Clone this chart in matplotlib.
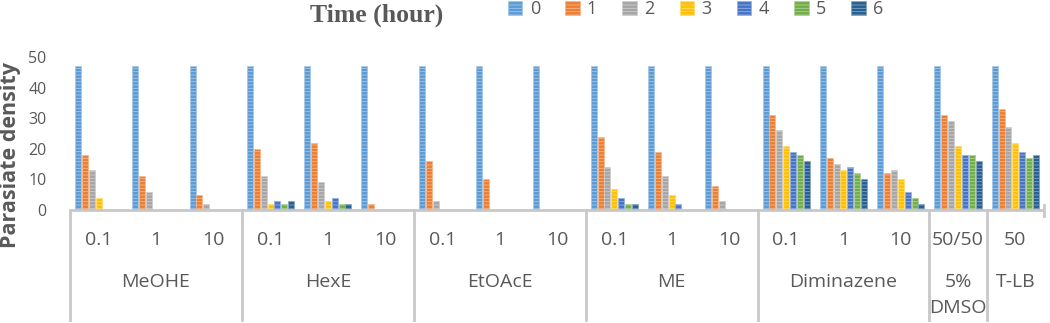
import matplotlib
matplotlib.use("Agg")
import matplotlib.pyplot as plt
from matplotlib.patches import Patch
from matplotlib.colors import to_rgb
import matplotlib.transforms as mtransforms

# ---- data ----
sub_labels = ['0.1', '1', '10', '0.1', '1', '10', '0.1', '1', '10',
              '0.1', '1', '10', '0.1', '1', '10', '50/50', '50']
group_labels = ['MeOHE', 'HexE', 'EtOAcE', 'ME', 'Diminazene', '5%\nDMSO', 'T-LB']
group_sizes = [3, 3, 3, 3, 3, 1, 1]
hours = ['0', '1', '2', '3', '4', '5', '6']

h0 = [47, 47, 47, 47, 47, 47, 47, 47, 47, 47, 47, 47, 47, 47, 47, 47, 47]
h1 = [18, 11, 5, 20, 22, 2, 16, 10, 0, 24, 19, 8, 31, 17, 12, 31, 33]
h2 = [13, 6, 2, 11, 9, 0, 3, 0, 0, 14, 11, 3, 26, 15, 13, 29, 27]
h3 = [4, 0, 0, 2, 3, 0, 0, 0, 0, 7, 5, 0, 21, 13, 10, 21, 22]
h4 = [0, 0, 0, 3, 4, 0, 0, 0, 0, 4, 2, 0, 19, 14, 6, 18, 19]
h5 = [0, 0, 0, 2, 2, 0, 0, 0, 0, 2, 0, 0, 18, 12, 4, 18, 17]
h6 = [0, 0, 0, 3, 2, 0, 0, 0, 0, 2, 0, 0, 16, 10, 2, 16, 18]
series = [h0, h1, h2, h3, h4, h5, h6]

colors = ['#5B9BD5', '#ED7D31', '#A5A5A5', '#FFC000', '#4472C4', '#70AD47', '#255E91']

# ---- style ----
plt.rcParams['font.family'] = ['Open Sans', 'DejaVu Sans']
plt.rcParams['hatch.linewidth'] = 0.6
txt = '#595959'
axis_col = '#C8C8C8'

def lighten(c, f=0.45):
    r, g, b = to_rgb(c)
    return (r + (1 - r) * f, g + (1 - g) * f, b + (1 - b) * f)

W, H = 1050, 323
fig = plt.figure(figsize=(W / 100, H / 100), dpi=100)
ax_left, ax_right, ax_top, ax_bot = 70, 1044, 57, 210
ax = fig.add_axes([ax_left / W, (H - ax_bot) / H, (ax_right - ax_left) / W, (ax_bot - ax_top) / H])

n = len(sub_labels)
step = 0.12
bw = 0.105
for j, vals in enumerate(series):
    xs = [i + (j - 3) * step for i in range(n)]
    ax.bar(xs, vals, width=bw, color=colors[j], edgecolor=lighten(colors[j]),
           hatch='-----', linewidth=0.5, label=hours[j])

ax.set_xlim(-0.5, n - 0.5)
ax.set_ylim(0, 50)
ax.set_yticks([0, 10, 20, 30, 40, 50])
ax.tick_params(axis='y', length=0, labelsize=11.5, colors=txt, pad=17)
ax.set_xticks([])
for s in ['top', 'right', 'left', 'bottom']:
    ax.spines[s].set_visible(False)

# category axis
tr = mtransforms.blended_transform_factory(ax.transData, ax.transAxes)
lw = 2.0
ax.plot([-0.5, n - 0.5], [0, 0], transform=tr, color=axis_col, lw=lw, clip_on=False,
        solid_capstyle='butt')
ybot = -(323 - ax_bot) / (ax_bot - ax_top) * 0.97
fs = 14
for i, lab in enumerate(sub_labels):
    ax.text(i, -0.195, lab, transform=tr, ha='center', va='center', fontsize=fs, color=txt)
start = 0
bounds = [-0.5]
for g, sz in zip(group_labels, group_sizes):
    center = start + (sz - 1) / 2
    if '\n' in g:
        parts = g.split('\n')
        ax.text(center, -0.47, parts[0], transform=tr, ha='center', va='center', fontsize=fs, color=txt)
        ax.text(center, -0.64, parts[1], transform=tr, ha='center', va='center', fontsize=fs, color=txt)
    else:
        ax.text(center, -0.47, g, transform=tr, ha='center', va='center', fontsize=fs, color=txt)
    start += sz
    bounds.append(start - 0.5)
for b in bounds[:-1]:
    ax.plot([b, b], [0, ybot], transform=tr, color=axis_col, lw=lw, clip_on=False)
ax.plot([bounds[-1], bounds[-1]], [0.03, -0.04], transform=tr, color=axis_col, lw=lw, clip_on=False)

# y label
fig.text(11 / W, (H - 155) / H, 'Parasiate density', rotation=90, ha='center', va='center',
         fontsize=15.5, fontweight='bold', color=txt)

# title
fig.text(377 / W, (H - 15) / H, 'Time (hour)', ha='center', va='center',
         fontsize=18.5, fontweight='bold', color=txt, family='Liberation Serif')

# legend
handles = [Patch(facecolor=colors[j], edgecolor=lighten(colors[j]), hatch='-----', linewidth=0.5)
           for j in range(7)]
fig.legend(handles, hours, loc='center left', bbox_to_anchor=(508 / W, (H - 9) / H),
           ncol=7, frameon=False, fontsize=13, labelcolor=txt, handlelength=0.8,
           handleheight=0.8, handletextpad=0.4, columnspacing=1.4, borderpad=0,
           borderaxespad=0)

fig.savefig('out.png', dpi=100)
